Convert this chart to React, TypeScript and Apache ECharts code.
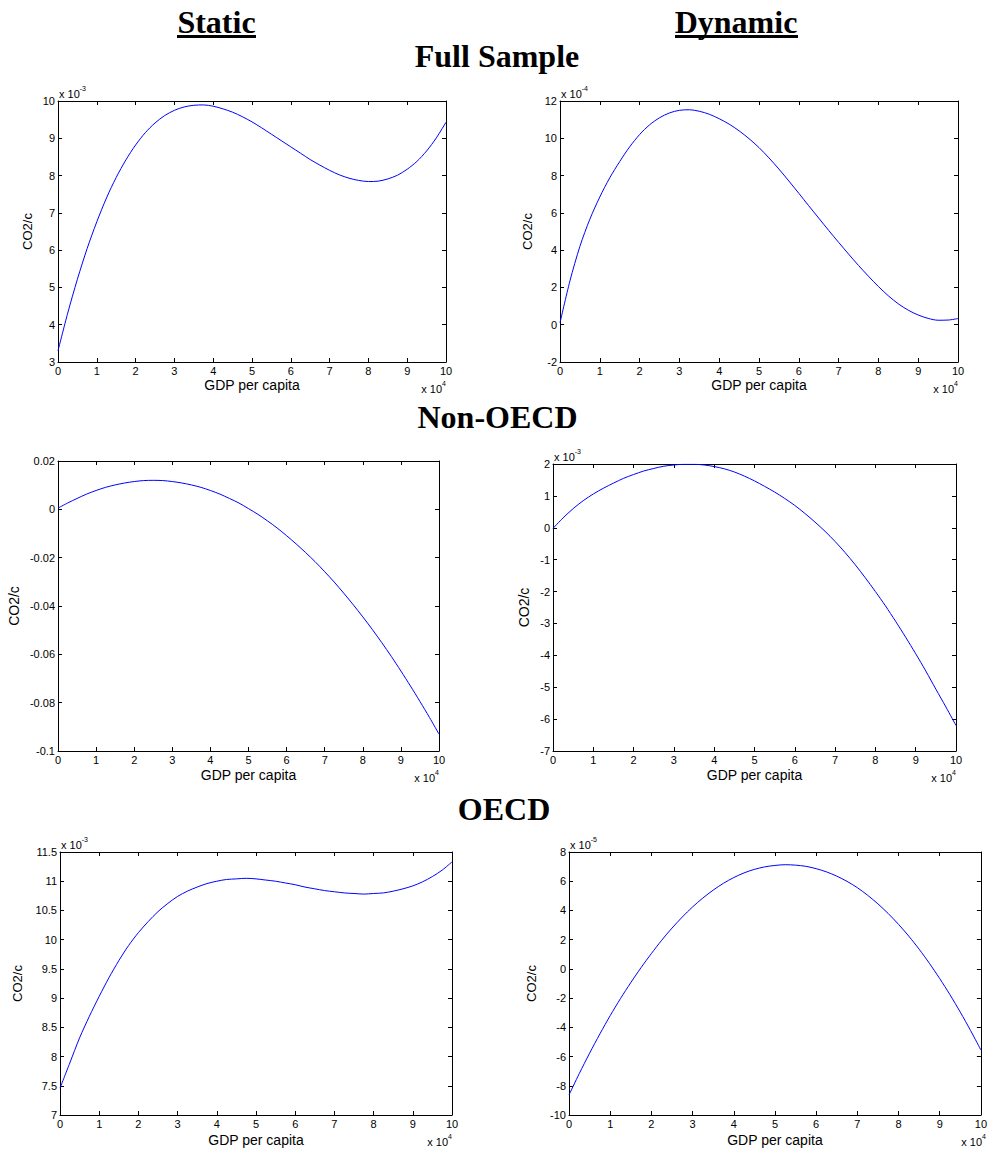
import React, { useEffect, useRef } from "react";
import * as echarts from "echarts";

// GDP per capita (x 10^4)
const gdpPerCapita = [
  0, 0.25, 0.5, 0.75, 1, 1.25, 1.5, 1.75, 2, 2.25, 2.5, 2.75, 3, 3.25, 3.5, 3.75, 4, 4.25, 4.5, 4.75,
  5, 5.25, 5.5, 5.75, 6, 6.25, 6.5, 6.75, 7, 7.25, 7.5, 7.75, 8, 8.25, 8.5, 8.75, 9, 9.25, 9.5, 9.75, 10,
];

// Full sample, static (x 10^-3)
const fullStatic = [
  3.3, 4.31, 5.22, 6.04, 6.76, 7.4, 7.95, 8.42, 8.82, 9.15, 9.41, 9.61, 9.75, 9.84, 9.885, 9.895, 9.86, 9.79, 9.7, 9.58,
  9.44, 9.28, 9.11, 8.94, 8.77, 8.6, 8.43, 8.28, 8.14, 8.02, 7.93, 7.87, 7.84, 7.85, 7.91, 8.01, 8.17, 8.38, 8.66, 9.01, 9.43,
];
// Full sample, dynamic (x 10^-4)
const fullDynamic = [
  0.1, 2.35, 4.2, 5.66, 6.85, 7.88, 8.75, 9.54, 10.2, 10.72, 11.1, 11.36, 11.5, 11.53, 11.45, 11.29, 11.05, 10.76, 10.4, 9.98,
  9.5, 8.95, 8.35, 7.71, 7.05, 6.38, 5.72, 5.06, 4.42, 3.79, 3.18, 2.6, 2.05, 1.55, 1.12, 0.78, 0.52, 0.34, 0.24, 0.25, 0.33,
];
// Non-OECD, static
const nonOecdStatic = [
  0.0005, 0.0026, 0.0045, 0.0063, 0.0078, 0.0091, 0.0101, 0.0109, 0.0115, 0.0119, 0.012, 0.0119, 0.0115, 0.0109, 0.0101, 0.0091, 0.0078, 0.0063, 0.0045, 0.0026,
  0.0003, -0.0021, -0.0048, -0.0077, -0.0109, -0.0143, -0.0179, -0.0217, -0.0258, -0.0301, -0.0347, -0.0395, -0.0445, -0.0497, -0.0552, -0.0609, -0.0669, -0.0731, -0.0795, -0.0861, -0.093,
];
// Non-OECD, dynamic (x 10^-3)
const nonOecdDynamic = [
  -0.02, 0.31, 0.6, 0.85, 1.06, 1.24, 1.4, 1.55, 1.67, 1.78, 1.86, 1.93, 1.97, 1.99, 1.99, 1.97, 1.92, 1.85, 1.75, 1.62,
  1.47, 1.3, 1.12, 0.92, 0.7, 0.45, 0.18, -0.11, -0.43, -0.78, -1.16, -1.57, -2.0, -2.45, -2.93, -3.43, -3.95, -4.49, -5.06, -5.62, -6.2,
];
// OECD, static (x 10^-3)
const oecdStatic = [
  7.46, 7.89, 8.32, 8.69, 9.03, 9.35, 9.64, 9.9, 10.12, 10.31, 10.48, 10.62, 10.74, 10.83, 10.9, 10.96, 11.0, 11.03, 11.04, 11.05,
  11.04, 11.02, 11.0, 10.97, 10.94, 10.9, 10.87, 10.84, 10.82, 10.8, 10.79, 10.78, 10.79, 10.8, 10.83, 10.87, 10.92, 10.99, 11.08, 11.19, 11.33,
];
// OECD, dynamic (x 10^-5)
const oecdDynamic = [
  -8.63, -7.16, -5.77, -4.45, -3.2, -2.03, -0.94, 0.09, 1.05, 1.96, 2.79, 3.55, 4.24, 4.85, 5.39, 5.86, 6.25, 6.57, 6.81, 6.98,
  7.08, 7.13, 7.1, 7.02, 6.86, 6.64, 6.35, 5.99, 5.56, 5.04, 4.45, 3.79, 3.05, 2.24, 1.35, 0.38, -0.66, -1.77, -2.96, -4.22, -5.55,
];

// axis ranges [min, max, interval]
const xRange = [0, 10, 1];
const fullStaticY = [3, 10, 1];
const fullDynamicY = [-2, 12, 2];
const nonOecdStaticY = [-0.1, 0.02, 0.02];
const nonOecdDynamicY = [-7, 2, 1];
const oecdStaticY = [7, 11.5, 0.5];
const oecdDynamicY = [-10, 8, 2];

const xExponent = "4";
const xName = "GDP per capita";
const yName = "CO2/c";

const sectionTitles = ["Full Sample", "Non-OECD", "OECD"];
const columnTitles = ["Static", "Dynamic"];

const SANS = '"Liberation Sans", Arial, Helvetica, sans-serif';
const SERIF = '"Liberation Serif", "Times New Roman", serif';

const panels = [
  { data: fullStatic, y: fullStaticY, exp: "-3", grid: { left: 58, top: 101, width: 388, height: 261 }, yGap: 24, yFont: 13, xGap: 16 },
  { data: fullDynamic, y: fullDynamicY, exp: "-4", grid: { left: 560, top: 101, width: 398, height: 261 }, yGap: 26, yFont: 13, xGap: 16 },
  { data: nonOecdStatic, y: nonOecdStaticY, exp: null, grid: { left: 58, top: 461, width: 381, height: 290 }, yGap: 37, yFont: 14, xGap: 17 },
  { data: nonOecdDynamic, y: nonOecdDynamicY, exp: "-3", grid: { left: 553, top: 464, width: 403, height: 287 }, yGap: 22, yFont: 14, xGap: 17 },
  { data: oecdStatic, y: oecdStaticY, exp: "-3", grid: { left: 60, top: 852, width: 392, height: 263 }, yGap: 36, yFont: 13, xGap: 18 },
  { data: oecdDynamic, y: oecdDynamicY, exp: "-5", grid: { left: 569, top: 852, width: 417, height: 263 }, yGap: 31, yFont: 13, xGap: 18 },
];

const expRich = {
  a: { fontSize: 11, fontFamily: SANS, color: "#000", lineHeight: 14, verticalAlign: "bottom" },
  b: { fontSize: 7, fontFamily: SANS, color: "#000", lineHeight: 8, verticalAlign: "top" },
};

export default function App() {
  const ref = useRef<HTMLDivElement>(null);

  useEffect(() => {
    if (!ref.current) return;
    const chart = echarts.init(ref.current, undefined, { renderer: "svg" });

    const line = { show: true, onZero: false, lineStyle: { color: "#000", width: 1 } };
    const tick = { show: true, inside: true, length: 4, lineStyle: { color: "#000", width: 1 } };

    const grids: any[] = [];
    const xAxes: any[] = [];
    const yAxes: any[] = [];
    const series: any[] = [];
    const graphic: any[] = [];

    panels.forEach((p, i) => {
      grids.push({ ...p.grid, containLabel: false });
      xAxes.push({
        type: "value", gridIndex: i, position: "bottom",
        min: xRange[0], max: xRange[1], interval: xRange[2],
        axisLine: line, axisTick: tick, splitLine: { show: false },
        axisLabel: { color: "#000", fontSize: 11, fontFamily: SANS, margin: 3, showMinLabel: true, showMaxLabel: true },
        name: xName, nameLocation: "middle", nameGap: p.xGap,
        nameTextStyle: { color: "#000", fontSize: 14, fontFamily: SANS },
      });
      xAxes.push({
        type: "value", gridIndex: i, position: "top",
        min: xRange[0], max: xRange[1], interval: xRange[2],
        axisLine: line, axisTick: tick, splitLine: { show: false }, axisLabel: { show: false },
      });
      yAxes.push({
        type: "value", gridIndex: i, position: "left",
        min: p.y[0], max: p.y[1], interval: p.y[2],
        axisLine: line, axisTick: tick, splitLine: { show: false },
        axisLabel: { color: "#000", fontSize: 11, fontFamily: SANS, margin: 3, showMinLabel: true, showMaxLabel: true },
        name: yName, nameLocation: "middle", nameGap: p.yGap,
        nameTextStyle: { color: "#000", fontSize: p.yFont, fontFamily: SANS },
      });
      yAxes.push({
        type: "value", gridIndex: i, position: "right",
        min: p.y[0], max: p.y[1], interval: p.y[2],
        axisLine: line, axisTick: tick, splitLine: { show: false }, axisLabel: { show: false },
      });
      series.push({
        type: "line", xAxisIndex: 2 * i, yAxisIndex: 2 * i,
        data: gdpPerCapita.map((x, j) => [x, p.data[j]]),
        showSymbol: false, smooth: 0.3,
        lineStyle: { color: "#0000ff", width: 1 },
      });

      const g = p.grid;
      if (p.exp) {
        graphic.push({
          type: "text", left: g.left + 1, top: g.top - 16,
          style: { text: `{a|x 10}{b|${p.exp}}`, rich: expRich },
        });
      }
      graphic.push({
        type: "text", right: 990 - (g.left + g.width), top: g.top + g.height + 18,
        style: { text: `{a|x 10}{b|${xExponent}}`, rich: expRich },
      });
    });

    const titleFont = `bold 32px ${SERIF}`;
    const colX = [216.5, 736];
    columnTitles.forEach((t, i) => {
      graphic.push({ type: "text", x: colX[i], y: 22, style: { text: t, font: titleFont, fill: "#000", align: "center", verticalAlign: "middle" } });
    });
    graphic.push({ type: "rect", shape: { x: 177, y: 35, width: 79, height: 3 }, style: { fill: "#000" } });
    graphic.push({ type: "rect", shape: { x: 675, y: 35, width: 123, height: 3 }, style: { fill: "#000" } });
    const secPos = [[497, 56], [497.5, 417], [504, 809]];
    sectionTitles.forEach((t, i) => {
      graphic.push({ type: "text", x: secPos[i][0], y: secPos[i][1], style: { text: t, font: titleFont, fill: "#000", align: "center", verticalAlign: "middle" } });
    });

    chart.setOption({
      animation: false,
      backgroundColor: "#fff",
      grid: grids,
      xAxis: xAxes,
      yAxis: yAxes,
      series,
      graphic,
    });

    return () => chart.dispose();
  }, []);

  return <div ref={ref} style={{ position: "absolute", left: 0, top: 0, width: 990, height: 1151 }} />;
}
